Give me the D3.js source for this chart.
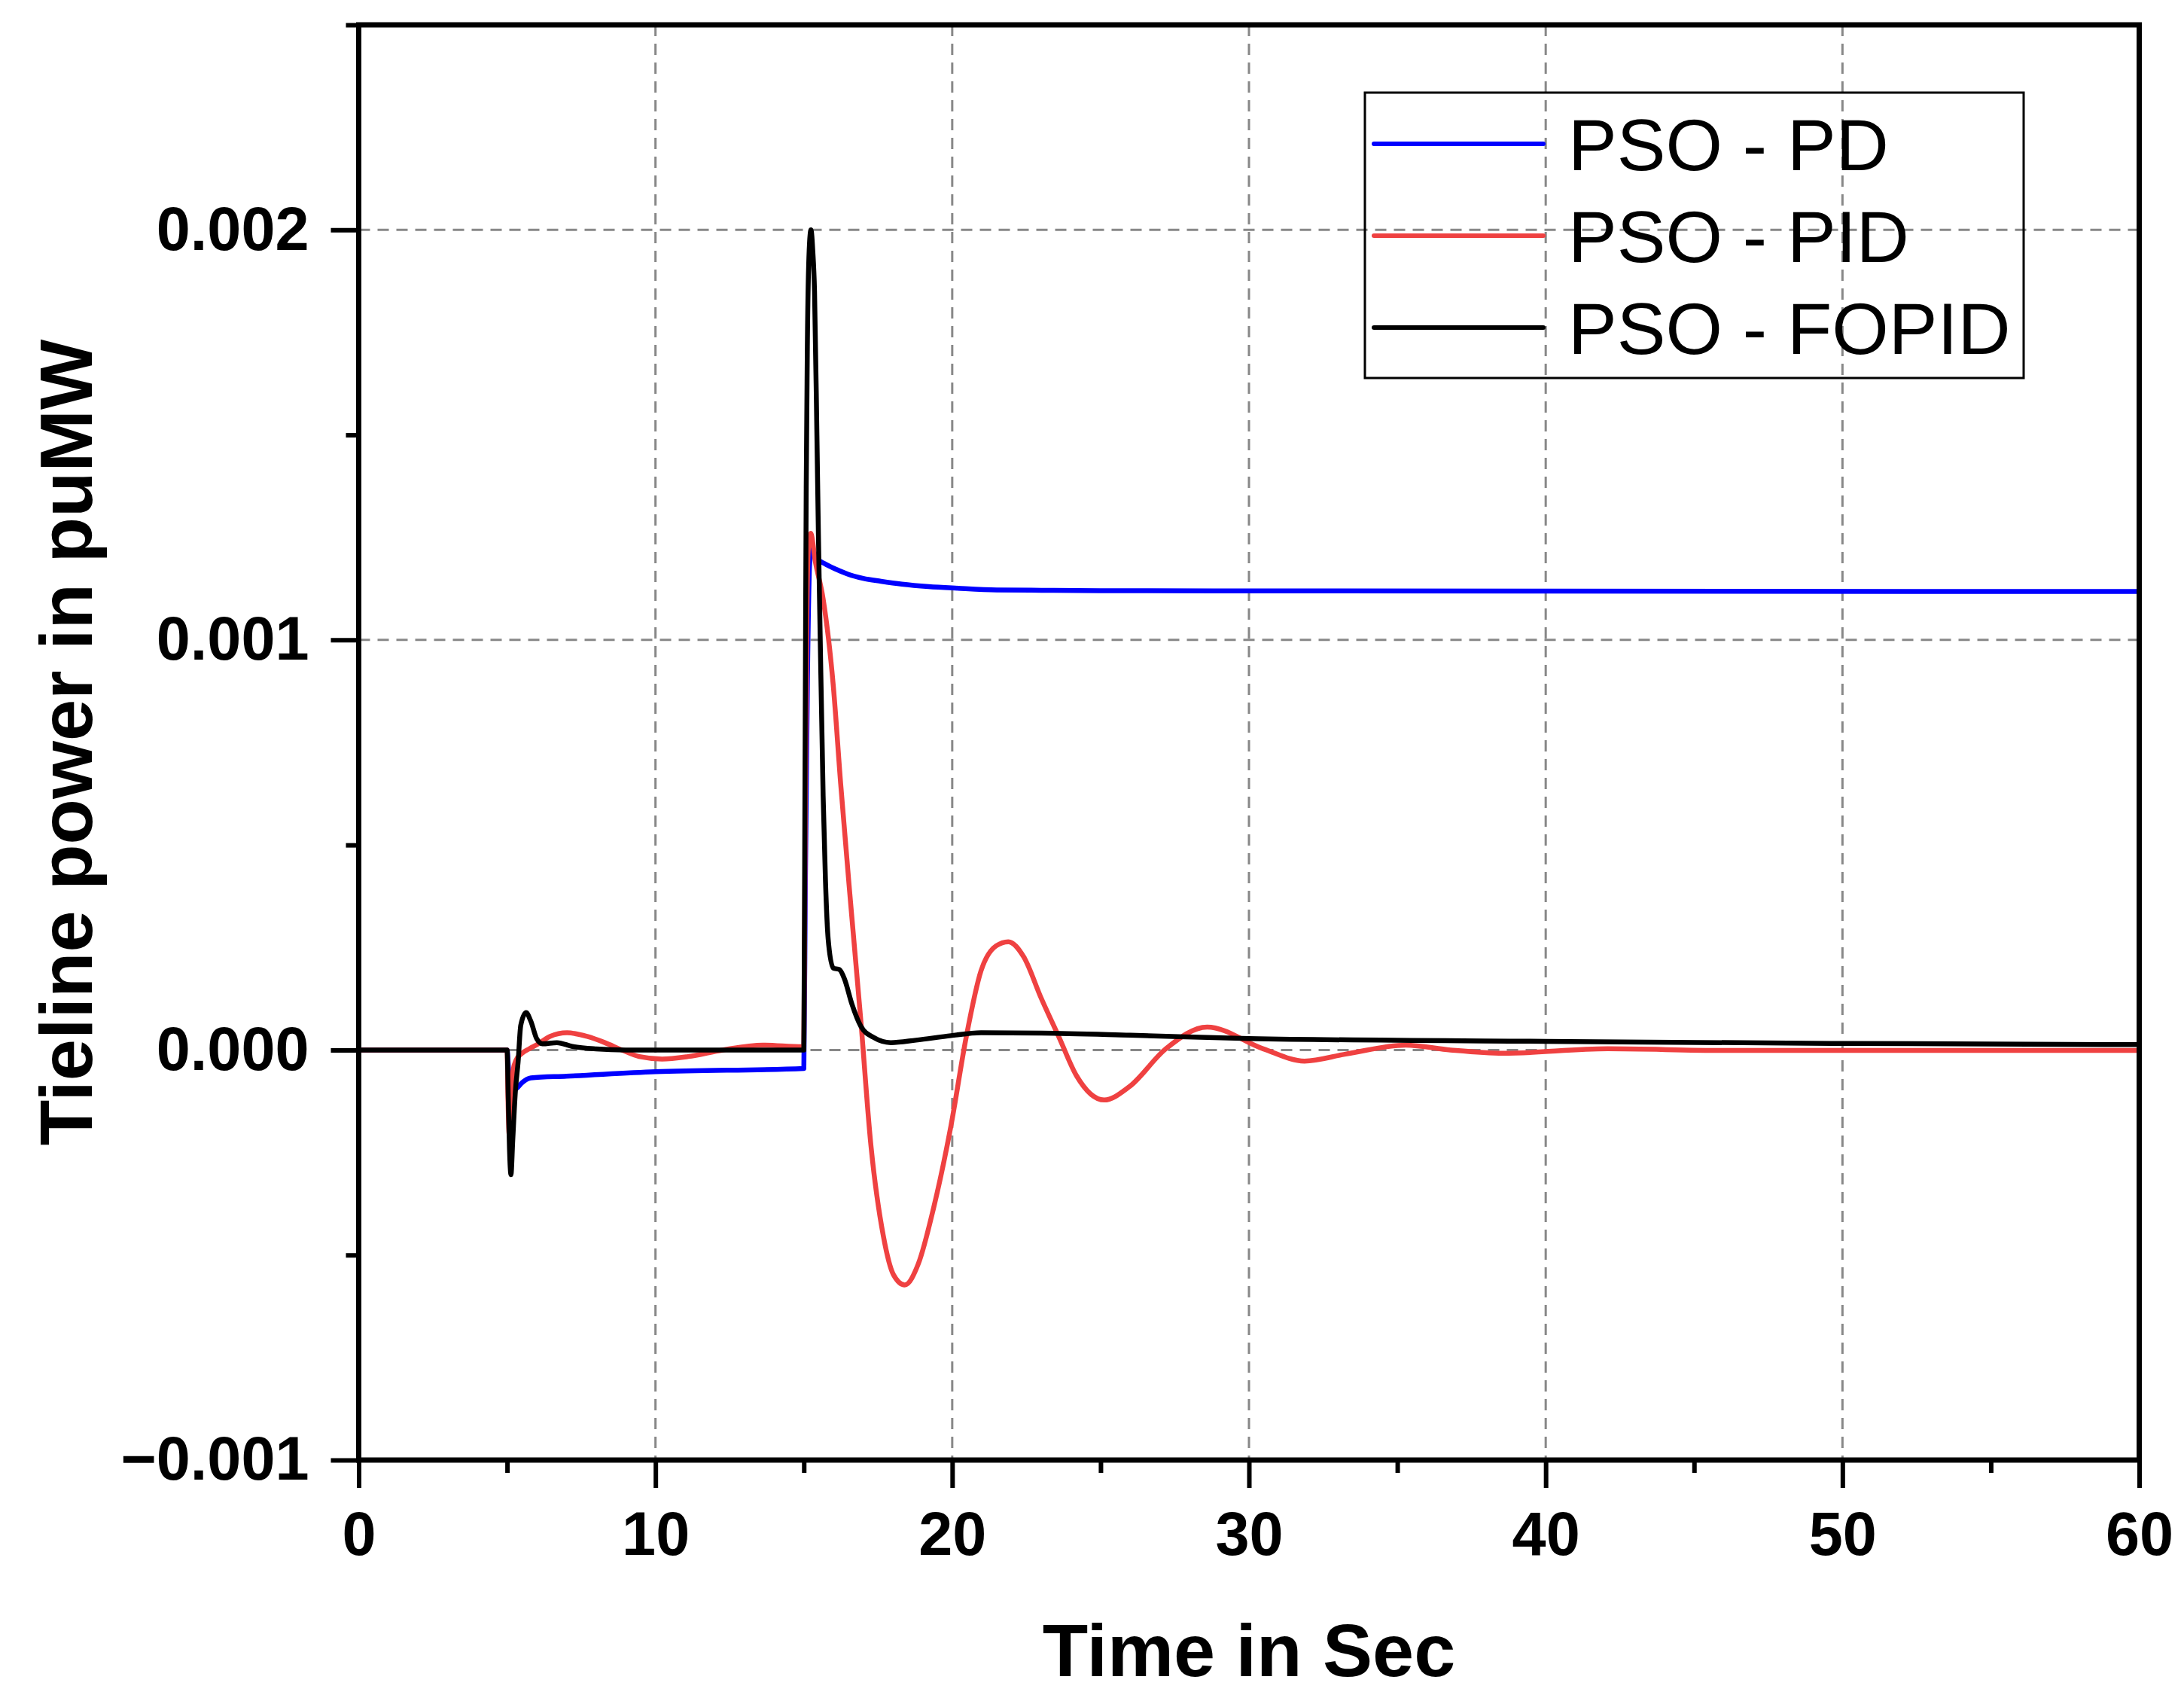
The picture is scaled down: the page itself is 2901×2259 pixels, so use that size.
<!DOCTYPE html>
<html>
<head>
<meta charset="utf-8">
<script src="https://cdn.jsdelivr.net/npm/d3@7"></script>
<style>
  html, body { margin: 0; padding: 0; background: #fff; }
  svg { display: block; }
</style>
</head>
<body>
<div id="chart"></div>
<script>
// series (time in s, tieline power in puMW)
const pdTime  = [0, 5.0, 5.05, 5.15, 5.3, 5.5, 5.8, 7.0, 10, 15.0, 15.05, 15.12, 15.2, 15.27, 15.45, 15.7, 16.1, 16.5, 17.0, 17.6, 18.3, 19.2, 20.2, 21.5, 23, 25, 40, 60]
const pdValue = [0, 0, -0.00005, -0.0001, -0.000095, -0.00008, -0.000068, -0.000064, -0.000053, -0.000045, 0.0004, 0.0009, 0.00119, 0.00122, 0.001198, 0.001186, 0.001172, 0.00116, 0.00115, 0.001143, 0.001136, 0.00113, 0.001126, 0.001122, 0.001121, 0.00112, 0.001119, 0.001118]

const pidTime  = [0, 5.0, 5.03, 5.07, 5.12, 5.2, 5.3, 5.5, 5.75, 6.05, 6.44, 7.02, 7.7, 8.29, 8.87, 9.45, 10.22, 11.1, 12.26, 13.62, 14.93, 15.0, 15.05, 15.1, 15.15, 15.23, 15.39, 15.65, 15.99, 16.24, 16.58, 16.92, 17.25, 17.68, 18.02, 18.4, 18.86, 19.37, 19.96, 20.47, 20.97, 21.48, 21.89, 22.41, 23.0, 23.6, 24.19, 25.12, 25.96, 27.2, 28.59, 30.48, 31.87, 33.26, 35.28, 36.79, 38.56, 42.09, 46, 60]
const pidValue = [0, 0, -0.00012, -0.000206, -0.00012, -0.00005, -0.000025, -0.000008, 0.000003, 0.000015, 0.000033, 0.000042, 0.000033, 0.000018, 0, -0.000016, -0.000022, -0.000016, 0, 0.000012, 0.000008, 0.000008, 0.0006, 0.00105, 0.00122, 0.00126, 0.00119, 0.0011, 0.00089, 0.00065, 0.000355, 0.000072, -0.000225, -0.000454, -0.000548, -0.000573, -0.000521, -0.000386, -0.000184, 0.000031, 0.000193, 0.000254, 0.000264, 0.000227, 0.000126, 0.000031, -0.000063, -0.000122, -0.00009, 0.000003, 0.000056, 0.000003, -0.000027, -0.00001, 0.000012, 0, -0.000008, 0.000003, -0.000001, -0.000001]

const fopidTime  = [0, 5.0, 5.04, 5.08, 5.13, 5.19, 5.28, 5.37, 5.46, 5.64, 5.8, 6.0, 6.19, 6.68, 7.2, 8.0, 9, 15.0, 15.03, 15.06, 15.08, 15.12, 15.18, 15.24, 15.3, 15.36, 15.44, 15.49, 15.55, 15.65, 15.73, 15.82, 15.99, 16.2, 16.37, 16.62, 16.92, 17.34, 17.93, 18.78, 19.96, 20.97, 23.0, 26, 30, 40, 50, 60]
const fopidValue = [0, 0, -0.00012, -0.00024, -0.000304, -0.00022, -0.0001, -0.00003, 0.00006, 0.000091, 0.00007, 0.000027, 0.000015, 0.000018, 0.0000086, 0.0000025, 0, 0, 0.0005, 0.00105, 0.00137, 0.00173, 0.00195, 0.002, 0.00195, 0.00185, 0.0015, 0.00126, 0.00101, 0.00062, 0.00041, 0.00027, 0.0002, 0.000196, 0.000173, 0.000112, 0.000058, 0.000031, 0.000018, 0.000024, 0.000035, 0.000042, 0.000041, 0.000036, 0.000028, 0.000021, 0.000016, 0.000013]

const seriesNames  = ['PSO - PD', 'PSO - PID', 'PSO - FOPID']
const seriesColors = ['#0000ff', '#ef4141', '#000000']

const xMajorTicks = [0, 10, 20, 30, 40, 50, 60]
const xMinorTicks = [5, 15, 25, 35, 45, 55]
const yMajorTicks = [-0.001, 0, 0.001, 0.002]
const yMinorTicks = [-0.0005, 0.0005, 0.0015, 0.0025]

const xTitle = 'Time in Sec'
const yTitle = 'Tieline power in puMW'

const drawChart = () => {
  const dims = {
    width: 2901,
    height: 2259,
    left: 476.5,
    right: 2841.5,
    top: 33,
    bottom: 1939
  }
  const innerWidth = dims.right - dims.left
  const innerHeight = dims.bottom - dims.top

  const svg = d3
    .select('#chart')
    .append('svg')
    .attr('width', dims.width)
    .attr('height', dims.height)

  const canvas = svg
    .append('g')
    .attr('transform', `translate(${dims.left}, ${dims.top})`)

  const xScale = d3.scaleLinear().domain([0, 60]).range([0, innerWidth])
  const yScale = d3.scaleLinear().domain([-0.001, 0.0025]).range([innerHeight, 0])

  // dashed grid at the major ticks
  const grid = canvas.append('g')
  grid
    .selectAll('.vgrid')
    .data(xMajorTicks.filter((d) => d > 0 && d < 60))
    .join('line')
    .attr('x1', (d) => xScale(d))
    .attr('x2', (d) => xScale(d))
    .attr('y1', 0)
    .attr('y2', innerHeight)
  grid
    .selectAll('.hgrid')
    .data(yMajorTicks.filter((d) => d > -0.001))
    .join('line')
    .attr('x1', 0)
    .attr('x2', innerWidth)
    .attr('y1', (d) => yScale(d))
    .attr('y2', (d) => yScale(d))
  grid
    .selectAll('line')
    .attr('stroke', '#888888')
    .attr('stroke-width', 3)
    .attr('stroke-dasharray', '15,10')

  // the three responses
  const seriesData = [
    d3.zip(pdTime, pdValue),
    d3.zip(pidTime, pidValue),
    d3.zip(fopidTime, fopidValue)
  ]

  const lineGenerator = d3
    .line()
    .x((d) => xScale(d[0]))
    .y((d) => yScale(d[1]))
    .curve(d3.curveMonotoneX)

  seriesData.forEach((points, i) => {
    canvas
      .append('path')
      .datum(points)
      .attr('d', lineGenerator)
      .attr('fill', 'none')
      .attr('stroke', seriesColors[i])
      .attr('stroke-width', 6.5)
      .attr('stroke-linejoin', 'round')
  })

  // axes
  const styleAxis = (g) => {
    g.select('.domain').remove()
    g.selectAll('.tick line').attr('stroke', '#000').attr('stroke-width', 6)
    g.selectAll('.tick text')
      .attr('fill', '#000')
      .attr('font-family', "'Liberation Sans', Arial, sans-serif")
      .attr('font-weight', 'bold')
      .attr('font-size', '81px')
  }

  canvas
    .append('g')
    .attr('transform', `translate(0, ${innerHeight})`)
    .call(d3.axisBottom(xScale).tickValues(xMajorTicks).tickSize(37).tickPadding(31))
    .call(styleAxis)
  canvas
    .append('g')
    .attr('transform', `translate(0, ${innerHeight})`)
    .call(d3.axisBottom(xScale).tickValues(xMinorTicks).tickSize(17).tickFormat(''))
    .call(styleAxis)

  canvas
    .append('g')
    .call(
      d3.axisLeft(yScale).tickValues(yMajorTicks).tickSize(37).tickPadding(29).tickFormat(d3.format('.3f'))
    )
    .call(styleAxis)
  canvas
    .append('g')
    .call(d3.axisLeft(yScale).tickValues(yMinorTicks).tickSize(17).tickFormat(''))
    .call(styleAxis)

  // frame
  canvas
    .append('rect')
    .attr('width', innerWidth)
    .attr('height', innerHeight)
    .attr('fill', 'none')
    .attr('stroke', '#000')
    .attr('stroke-width', 7)

  // axis titles
  svg
    .append('text')
    .attr('x', dims.left + innerWidth / 2)
    .attr('y', 2226)
    .attr('text-anchor', 'middle')
    .attr('font-family', "'Liberation Sans', Arial, sans-serif")
    .attr('font-weight', 'bold')
    .attr('font-size', '99px')
    .text(xTitle)

  svg
    .append('text')
    .attr('transform', `translate(122, ${dims.top + innerHeight / 2}) rotate(-90)`)
    .attr('text-anchor', 'middle')
    .attr('font-family', "'Liberation Sans', Arial, sans-serif")
    .attr('font-weight', 'bold')
    .attr('font-size', '99px')
    .text(yTitle)

  // legend
  const legend = svg.append('g')
  legend
    .append('rect')
    .attr('x', 1813)
    .attr('y', 123)
    .attr('width', 875)
    .attr('height', 379)
    .attr('fill', 'none')
    .attr('stroke', '#000')
    .attr('stroke-width', 3)

  const rowY = d3.scalePoint().domain(seriesNames).range([191, 435])

  const rows = legend
    .selectAll('.row')
    .data(seriesNames)
    .join('g')
    .attr('transform', (d) => `translate(0, ${rowY(d)})`)

  rows
    .append('line')
    .attr('x1', 1825)
    .attr('x2', 2050)
    .attr('stroke', (d, i) => seriesColors[i])
    .attr('stroke-width', 6)
    .attr('stroke-linecap', 'round')

  rows
    .append('text')
    .attr('x', 2083)
    .attr('y', 35)
    .attr('font-family', "'Liberation Sans', Arial, sans-serif")
    .attr('font-size', '97px')
    .attr('fill', '#000')
    .text((d) => d)
}

drawChart()
</script>
</body>
</html>
